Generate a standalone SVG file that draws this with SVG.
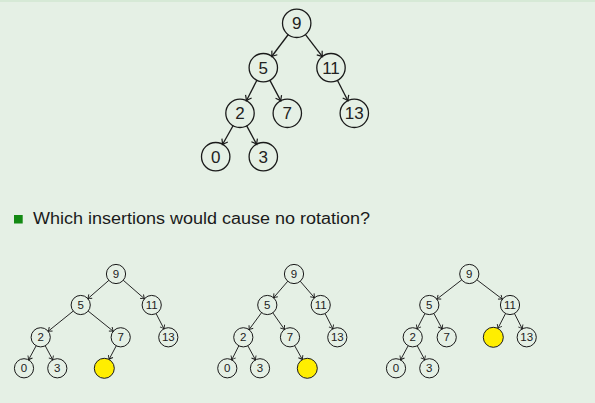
<svg xmlns="http://www.w3.org/2000/svg" width="595" height="403" viewBox="0 0 595 403">
<defs>
<style>
.n circle{fill:none;stroke:#1a1a1a;stroke-width:1.3}
.s circle{fill:none;stroke:#1a1a1a;stroke-width:1}
.y circle{fill:#ffee00;stroke:#1a1a1a;stroke-width:1}
.n text{font-family:"Liberation Sans",Arial,sans-serif;font-size:17px;fill:#222;text-anchor:middle}
.s text{font-family:"Liberation Sans",Arial,sans-serif;font-size:11.5px;fill:#222;text-anchor:middle}
.big line{stroke:#1a1a1a;stroke-width:1.3;marker-end:url(#ab)}
.sm line{stroke:#1a1a1a;stroke-width:0.95;marker-end:url(#as)}
</style>
<marker id="ab" markerUnits="userSpaceOnUse" markerWidth="12" markerHeight="12" refX="0" refY="0" viewBox="-6 -6 12 12" orient="auto" overflow="visible">
<path d="M-4.8,-3.4 Q-1.5,-0.8 0,0 Q-1.5,0.8 -4.8,3.4" fill="none" stroke="#1a1a1a" stroke-width="1.2"/>
</marker>
<marker id="as" markerUnits="userSpaceOnUse" markerWidth="10" markerHeight="10" refX="0" refY="0" viewBox="-5 -5 10 10" orient="auto" overflow="visible">
<path d="M-3.6,-2.6 Q-1.2,-0.6 0,0 Q-1.2,0.6 -3.6,2.6" fill="none" stroke="#1a1a1a" stroke-width="0.9"/>
</marker>
</defs>
<rect x="0" y="0" width="595" height="403" fill="#e5f0e5"/>
<rect x="0" y="0" width="595" height="2" fill="#d6e9d6"/>

<g id="connectors-top" class="big">
<line x1="288.3" y1="34.5" x2="271.7" y2="56.5"/>
<line x1="305.3" y1="34.4" x2="322.4" y2="56.6"/>
<line x1="256.9" y1="80.2" x2="246.4" y2="100.8"/>
<line x1="269.8" y1="80.1" x2="280.8" y2="100.9"/>
<line x1="337.4" y1="80.2" x2="347.9" y2="100.8"/>
<line x1="233.2" y1="125.5" x2="222.5" y2="144.5"/>
<line x1="246.6" y1="125.6" x2="256.7" y2="144.4"/>
</g>
<g id="t0-9" class="n"><circle cx="296.7" cy="23.3" r="14.2"/><text x="296.7" y="29.4">9</text></g>
<g id="t0-5" class="n"><circle cx="263.3" cy="67.7" r="14.2"/><text x="263.3" y="73.8">5</text></g>
<g id="t0-11" class="n"><circle cx="331" cy="67.7" r="14.2"/><text x="331" y="73.8">11</text></g>
<g id="t0-2" class="n"><circle cx="240" cy="113.3" r="14.2"/><text x="240" y="119.4">2</text></g>
<g id="t0-7" class="n"><circle cx="287.3" cy="113.3" r="14.2"/><text x="287.3" y="119.4">7</text></g>
<g id="t0-13" class="n"><circle cx="354.3" cy="113.3" r="14.2"/><text x="354.3" y="119.4">13</text></g>
<g id="t0-0" class="n"><circle cx="215.7" cy="156.7" r="14.2"/><text x="215.7" y="162.8">0</text></g>
<g id="t0-3" class="n"><circle cx="263.3" cy="156.7" r="14.2"/><text x="263.3" y="162.8">3</text></g>

<g id="question">
<rect x="14" y="215" width="8.7" height="8.5" fill="#138a13"/>
<text x="33" y="224" font-family="'Liberation Sans',Arial,sans-serif" font-size="16" fill="#1a1a1a" textLength="337" lengthAdjust="spacingAndGlyphs">Which insertions would cause no rotation?</text>
</g>

<g id="connectors-bottom" class="sm">
<line x1="108.9" y1="280.3" x2="87.8" y2="298.7"/>
<line x1="123.2" y1="280.2" x2="144.5" y2="298.8"/>
<line x1="73.3" y1="311" x2="48.1" y2="331.3"/>
<line x1="88.1" y1="311" x2="113.3" y2="331.3"/>
<line x1="156" y1="313.4" x2="164" y2="328.9"/>
<line x1="36.2" y1="345.7" x2="28.5" y2="359.9"/>
<line x1="45.2" y1="345.7" x2="52.8" y2="359.9"/>
<line x1="116.3" y1="345.7" x2="109" y2="359.5"/>

<line x1="287.8" y1="281.2" x2="273.5" y2="297.8"/>
<line x1="300.2" y1="281.2" x2="314.5" y2="297.8"/>
<line x1="261.6" y1="312.6" x2="249" y2="329.7"/>
<line x1="272.8" y1="312.8" x2="284.5" y2="329.5"/>
<line x1="325" y1="313.4" x2="332.9" y2="328.9"/>
<line x1="238.9" y1="345.7" x2="231.7" y2="359.9"/>
<line x1="247.8" y1="345.7" x2="255.5" y2="359.9"/>
<line x1="294.6" y1="345.6" x2="302.4" y2="359.6"/>

<line x1="461.8" y1="279.8" x2="436.8" y2="299.2"/>
<line x1="476.9" y1="279.8" x2="502.4" y2="299.2"/>
<line x1="425" y1="313.4" x2="417" y2="328.9"/>
<line x1="433.8" y1="313.4" x2="442.2" y2="328.9"/>
<line x1="505.6" y1="313.4" x2="497.9" y2="328.4"/>
<line x1="514.4" y1="313.4" x2="522.3" y2="328.9"/>
<line x1="408.2" y1="345.7" x2="400.5" y2="359.9"/>
<line x1="417.2" y1="345.7" x2="424.8" y2="359.9"/>
</g>

<g id="t1-9" class="s"><circle cx="116" cy="274" r="9.6"/><text x="116" y="278.1">9</text></g>
<g id="t1-5" class="s"><circle cx="80.7" cy="305" r="9.6"/><text x="80.7" y="309.1">5</text></g>
<g id="t1-11" class="s"><circle cx="151.7" cy="305" r="9.6"/><text x="151.7" y="309.1">11</text></g>
<g id="t1-2" class="s"><circle cx="40.7" cy="337.3" r="9.6"/><text x="40.7" y="341.4">2</text></g>
<g id="t1-7" class="s"><circle cx="120.7" cy="337.3" r="9.6"/><text x="120.7" y="341.4">7</text></g>
<g id="t1-13" class="s"><circle cx="168.3" cy="337.3" r="9.6"/><text x="168.3" y="341.4">13</text></g>
<g id="t1-0" class="s"><circle cx="24" cy="368.3" r="9.6"/><text x="24" y="372.4">0</text></g>
<g id="t1-3" class="s"><circle cx="57.3" cy="368.3" r="9.6"/><text x="57.3" y="372.4">3</text></g>
<g id="t1-new" class="y"><circle cx="104.3" cy="368.3" r="10"/></g>

<g id="t2-9" class="s"><circle cx="294" cy="274" r="9.6"/><text x="294" y="278.1">9</text></g>
<g id="t2-5" class="s"><circle cx="267.3" cy="305" r="9.6"/><text x="267.3" y="309.1">5</text></g>
<g id="t2-11" class="s"><circle cx="320.7" cy="305" r="9.6"/><text x="320.7" y="309.1">11</text></g>
<g id="t2-2" class="s"><circle cx="243.3" cy="337.3" r="9.6"/><text x="243.3" y="341.4">2</text></g>
<g id="t2-7" class="s"><circle cx="290" cy="337.3" r="9.6"/><text x="290" y="341.4">7</text></g>
<g id="t2-13" class="s"><circle cx="337.3" cy="337.3" r="9.6"/><text x="337.3" y="341.4">13</text></g>
<g id="t2-0" class="s"><circle cx="227.3" cy="368.3" r="9.6"/><text x="227.3" y="372.4">0</text></g>
<g id="t2-3" class="s"><circle cx="260" cy="368.3" r="9.6"/><text x="260" y="372.4">3</text></g>
<g id="t2-new" class="y"><circle cx="307.3" cy="368.3" r="10"/></g>

<g id="t3-9" class="s"><circle cx="469.3" cy="274" r="9.6"/><text x="469.3" y="278.1">9</text></g>
<g id="t3-5" class="s"><circle cx="429.3" cy="305" r="9.6"/><text x="429.3" y="309.1">5</text></g>
<g id="t3-11" class="s"><circle cx="510" cy="305" r="9.6"/><text x="510" y="309.1">11</text></g>
<g id="t3-2" class="s"><circle cx="412.7" cy="337.3" r="9.6"/><text x="412.7" y="341.4">2</text></g>
<g id="t3-7" class="s"><circle cx="446.7" cy="337.3" r="9.6"/><text x="446.7" y="341.4">7</text></g>
<g id="t3-new" class="y"><circle cx="493.3" cy="337.3" r="10"/></g>
<g id="t3-13" class="s"><circle cx="526.7" cy="337.3" r="9.6"/><text x="526.7" y="341.4">13</text></g>
<g id="t3-0" class="s"><circle cx="396" cy="368.3" r="9.6"/><text x="396" y="372.4">0</text></g>
<g id="t3-3" class="s"><circle cx="429.3" cy="368.3" r="9.6"/><text x="429.3" y="372.4">3</text></g>
</svg>
